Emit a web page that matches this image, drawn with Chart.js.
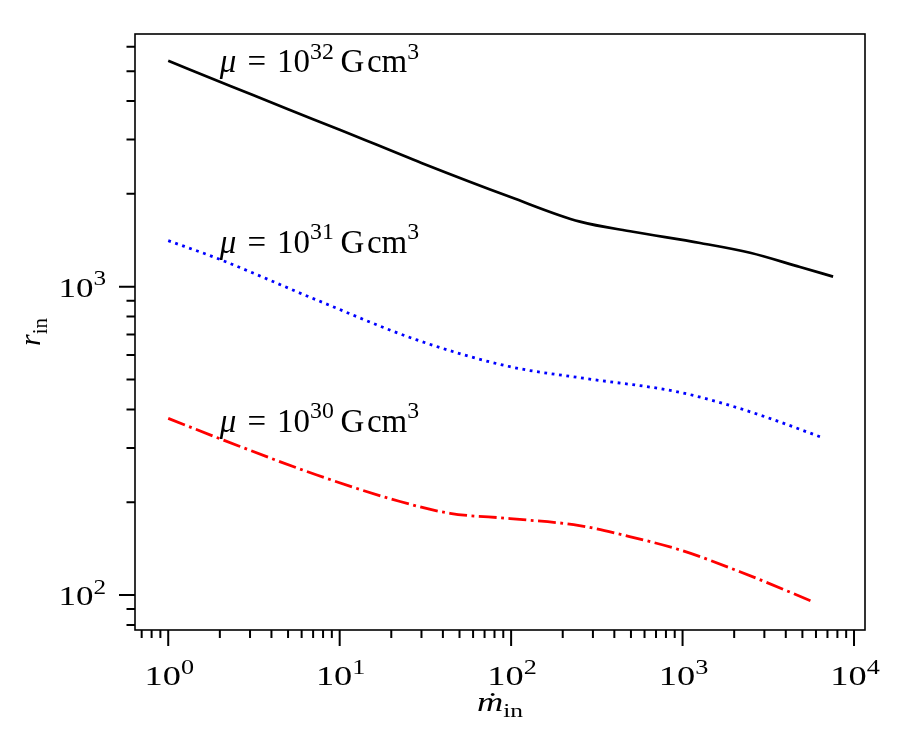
<!DOCTYPE html>
<html>
<head>
<meta charset="utf-8">
<script src="https://cdn.jsdelivr.net/npm/chart.js@4/dist/chart.umd.min.js"></script>
<style>
html,body{margin:0;padding:0;background:#fff;}
canvas{display:block;}
</style>
</head>
<body>
<canvas id="c" width="900" height="750"></canvas>
<script>
// ---- data ----
const mdot32 = [1, 2.3, 5, 10, 30, 100, 252, 514, 1265, 2476, 4842, 7550];
const rin32  = [5400, 4480, 3760, 3230, 2520, 1950, 1625, 1507, 1386, 1288, 1158, 1078];
const mdot31 = [1, 1.92, 7.36, 28.2, 98.6, 263, 880, 1582, 3096, 6340];
const rin31  = [1410, 1237, 905, 672, 550, 505, 459, 424, 377, 326];
const mdot30 = [1, 2.1, 7.36, 22.5, 44, 98.6, 250, 460, 967, 2160, 5790];
const rin30  = [374, 318, 245, 201, 184, 177, 168, 156, 140, 119, 95];
const seriesExp = ['32', '31', '30'];
const labelX = [2, 2, 2];
const labelY = [4980, 1290, 339];
const xTickValues = [1, 10, 100, 1000, 10000];
const xTickExps = ['0', '1', '2', '3', '4'];
const yTickValues = [100, 1000];
const yTickExps = ['2', '3'];
const xRange = [0.64, 11590];
const yRange = [77, 6600];

const pts = (xs, ys) => xs.map((x, i) => ({x: x, y: ys[i]}));
const FONT = '"Liberation Serif", "DejaVu Serif", serif';

function fontFor(p, size) {
  const sz = (p.s === 'sup' || p.s === 'sub') ? size * (p.s === 'sup' ? 0.72 : 0.7) : size;
  return (p.i ? 'italic ' : '') + sz + 'px ' + FONT;
}
function richWidth(ctx, parts, size) {
  let w = 0;
  for (const p of parts) { ctx.font = fontFor(p, size); w += ctx.measureText(p.t).width; }
  return w;
}
function drawRich(ctx, parts, x, y, size, align, sx) {
  ctx.save();
  ctx.translate(x, y);
  ctx.scale(sx, 1);
  const w = richWidth(ctx, parts, size);
  let cx = align === 'center' ? -w / 2 : (align === 'right' ? -w : 0);
  ctx.textBaseline = 'alphabetic';
  ctx.textAlign = 'left';
  ctx.fillStyle = '#000';
  for (const p of parts) {
    ctx.font = fontFor(p, size);
    let dy = 0;
    if (p.s === 'sup') dy = -size * 0.40;
    if (p.s === 'sub') dy = size * 0.22;
    ctx.fillText(p.t, cx, dy);
    cx += ctx.measureText(p.t).width;
  }
  ctx.restore();
}

const decor = {
  id: 'decor',
  afterDatasetsDraw(chart) {
    const ctx = chart.ctx, a = chart.chartArea;
    const xs = chart.scales.x, ys = chart.scales.y;
    ctx.save();
    ctx.strokeStyle = '#000';
    ctx.lineWidth = 1.6;
    ctx.strokeRect(a.left, a.top, a.right - a.left, a.bottom - a.top);
    ctx.lineWidth = 2;
    ctx.beginPath();
    for (let e = -1; e <= 4; e++) {
      for (let m = 1; m <= 9; m++) {
        const v = m * Math.pow(10, e);
        if (v < xRange[0] || v > xRange[1]) continue;
        const px = xs.getPixelForValue(v);
        const len = m === 1 ? 16 : 8;
        ctx.moveTo(px, a.bottom); ctx.lineTo(px, a.bottom + len);
      }
    }
    for (let e = 1; e <= 3; e++) {
      for (let m = 1; m <= 9; m++) {
        const v = m * Math.pow(10, e);
        if (v < yRange[0] || v > yRange[1]) continue;
        const py = ys.getPixelForValue(v);
        const len = m === 1 ? 16 : 8.5;
        ctx.moveTo(a.left, py); ctx.lineTo(a.left - len, py);
      }
    }
    ctx.stroke();
    ctx.restore();
    xTickValues.forEach((v, i) => {
      drawRich(ctx, [{t: '10'}, {t: xTickExps[i], s: 'sup'}], xs.getPixelForValue(v) + 1, 685, 28, 'center', 1.3);
    });
    yTickValues.forEach((v, i) => {
      drawRich(ctx, [{t: '10'}, {t: yTickExps[i], s: 'sup'}], 106, ys.getPixelForValue(v) + 10, 28, 'right', 1.25);
    });
    drawRich(ctx, [{t: 'ṁ', i: true}, {t: 'in', s: 'sub'}], (a.left + a.right) / 2, 711, 28, 'center', 1.3);
    ctx.save();
    ctx.translate(40, (a.top + a.bottom) / 2);
    ctx.rotate(-Math.PI / 2);
    drawRich(ctx, [{t: 'r', i: true}, {t: 'in', s: 'sub'}], 0, 0, 30, 'center', 1.0);
    ctx.restore();
    seriesExp.forEach((ex, i) => {
      drawRich(ctx, [{t: 'μ', i: true}, {t: '\u2004=\u200410'}, {t: ex, s: 'sup'}, {t: '\u2009G\u200Acm'}, {t: '3', s: 'sup'}],
        xs.getPixelForValue(labelX[i]), ys.getPixelForValue(labelY[i]), 33, 'left', 1.0);
    });
  }
};

new Chart(document.getElementById('c'), {
  type: 'line',
  data: {
    datasets: [
      {data: pts(mdot32, rin32), borderColor: '#000000', borderWidth: 2.7, borderDash: [], cubicInterpolationMode: 'monotone'},
      {data: pts(mdot31, rin31), borderColor: '#0000ff', borderWidth: 2.8, borderDash: [2.8, 4.6], cubicInterpolationMode: 'monotone'},
      {data: pts(mdot30, rin30), borderColor: '#ff0000', borderWidth: 2.8, borderDash: [17.9, 4.5, 2.8, 4.5], cubicInterpolationMode: 'monotone'}
    ]
  },
  options: {
    responsive: false,
    animation: false,
    devicePixelRatio: 1,
    layout: {padding: {left: 135, right: 35, top: 34, bottom: 120}},
    elements: {point: {radius: 0}},
    plugins: {legend: {display: false}, tooltip: {enabled: false}},
    scales: {
      x: {type: 'logarithmic', bounds: 'data', min: xRange[0], max: xRange[1], display: false},
      y: {type: 'logarithmic', bounds: 'data', min: yRange[0], max: yRange[1], display: false}
    }
  },
  plugins: [decor]
});
</script>
</body>
</html>
